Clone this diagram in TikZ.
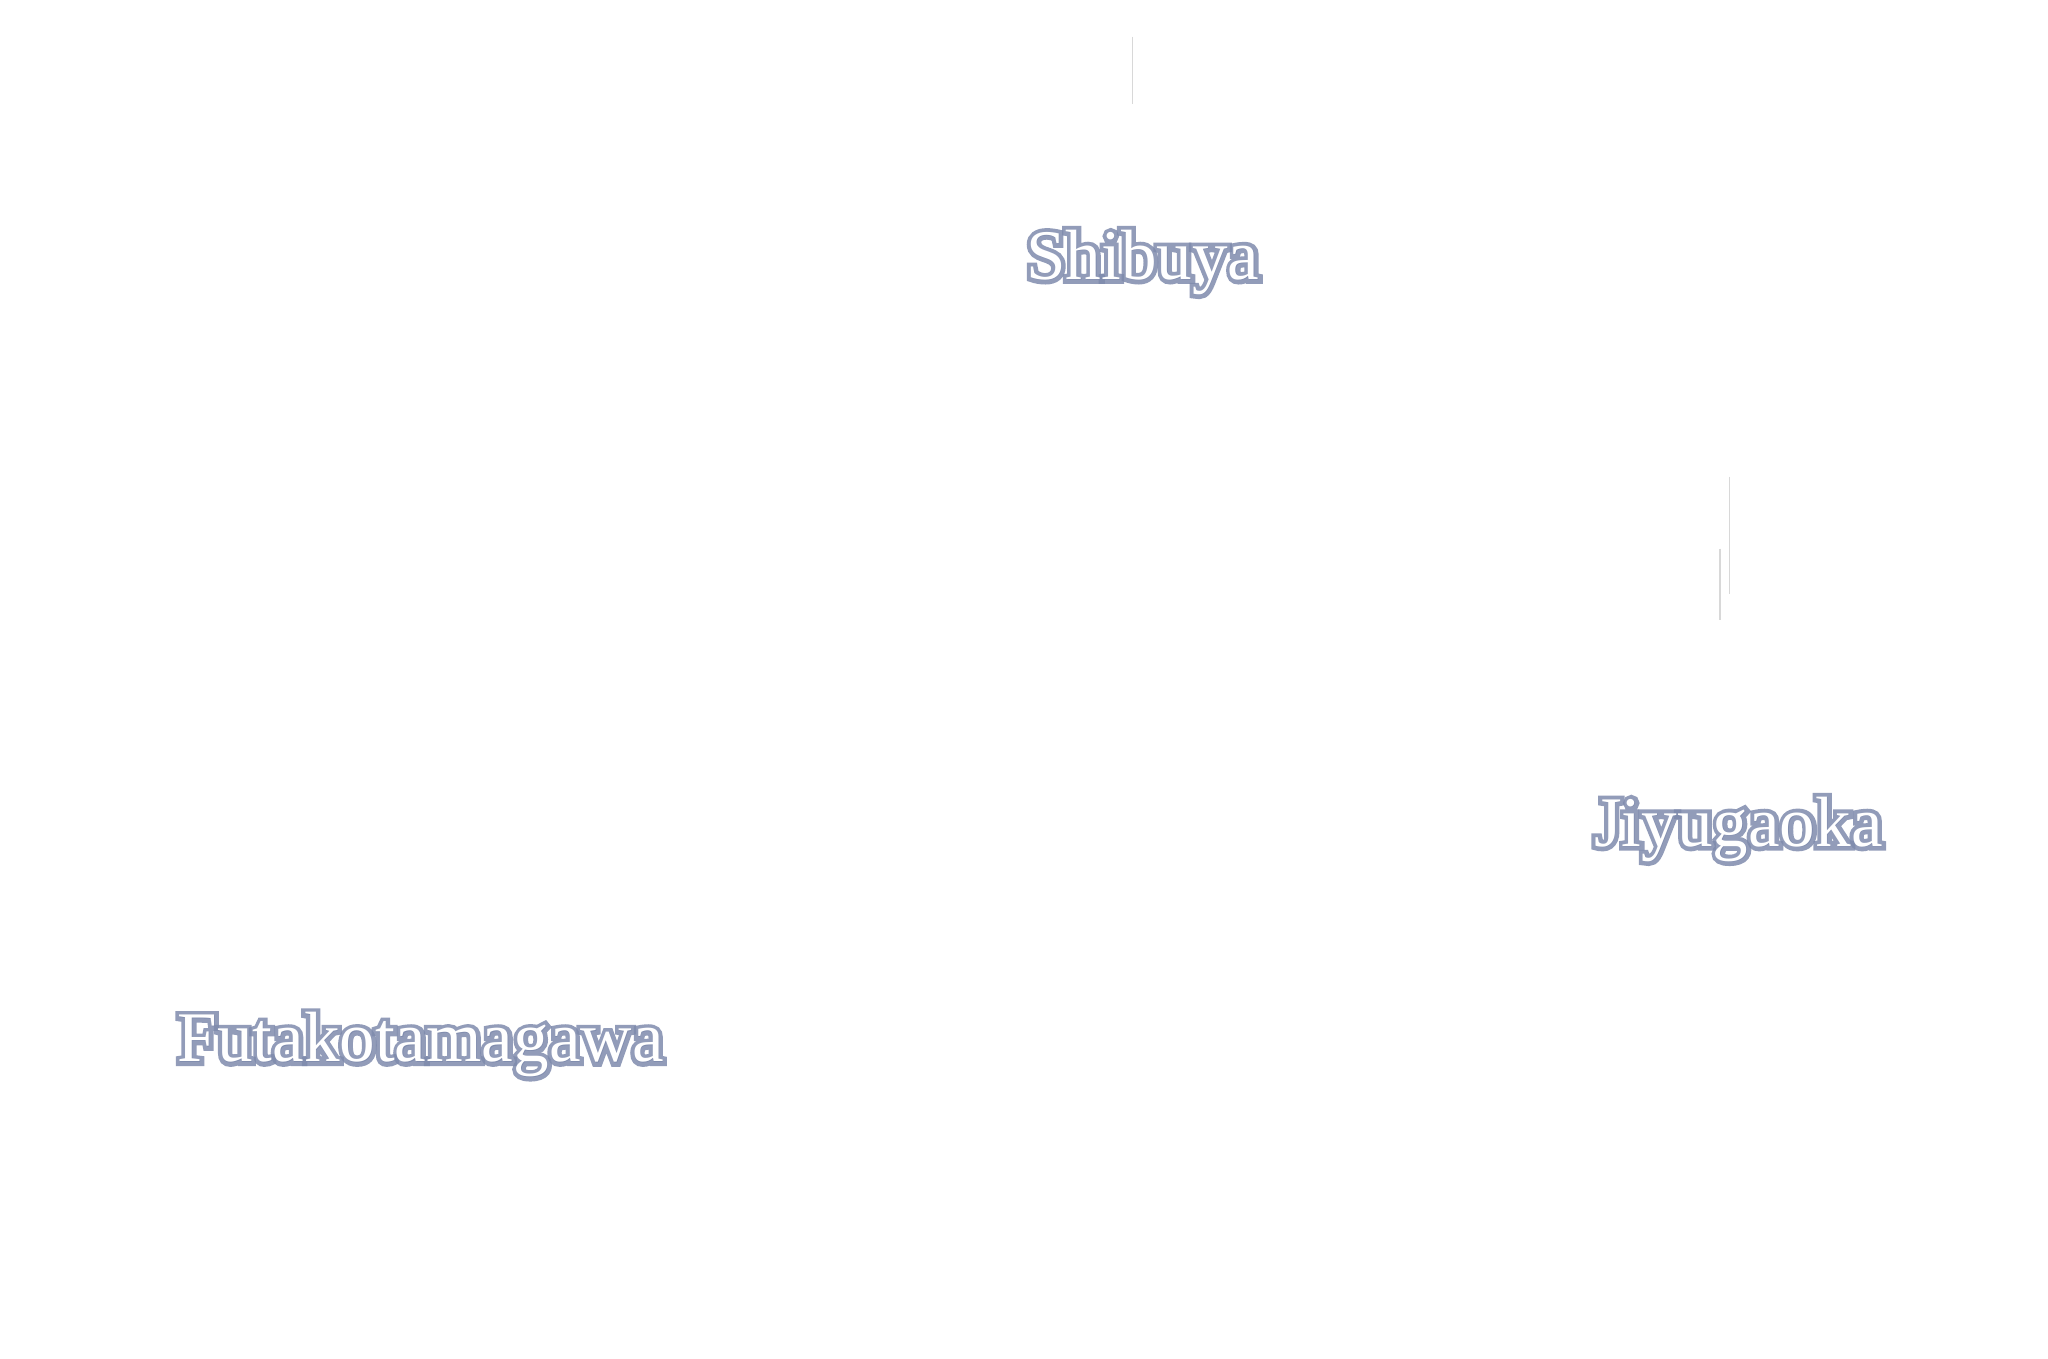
\documentclass[tikz,border=0pt]{standalone}
\usepackage{fontspec}
\setmainfont{Liberation Serif}
\newfontfamily\glowfont[FakeBold=12]{Liberation Serif}
\usetikzlibrary{positioning}
\definecolor{glowblue}{HTML}{7F8BAD}
\definecolor{tickgray}{HTML}{D8D8D8}
\newcommand{\glowlabel}[3]{%
  \node[station, text=glowblue, opacity=0.85, font=\glowfont\fontsize{31}{36}\selectfont] at (#2) {#3};
  \node[station, text=white] (#1) at (#2) {#3};
}
\begin{document}
\begin{tikzpicture}[
    x=0.02cm, y=-0.02cm,
    station/.style={font=\fontsize{31}{36}\selectfont, inner sep=0pt},
    tick/.style={draw=tickgray, line width=0.6pt}
]
    \useasboundingbox[fill=white] (0,0) rectangle (1568,1040);
    % tick marks
    \coordinate (shibuyaTop) at (867,28);
    \coordinate (shibuyaBot) at (867,80);
    \coordinate (jiyuTopA) at (1324,365);
    \coordinate (jiyuBotA) at (1324,455);
    \coordinate (jiyuTopB) at (1317,420);
    \coordinate (jiyuBotB) at (1317,475);
    \draw[tick] (shibuyaTop) -- (shibuyaBot);
    \draw[tick] (jiyuTopA) -- (jiyuBotA);
    \draw[tick] (jiyuTopB) -- (jiyuBotB);
    % stations
    \glowlabel{shibuya}{875,201}{Shibuya}
    \glowlabel{jiyugaoka}{1331,635}{Jiyugaoka}
    \glowlabel{futako}{322,800}{Futakotamagawa}
\end{tikzpicture}
\end{document}
